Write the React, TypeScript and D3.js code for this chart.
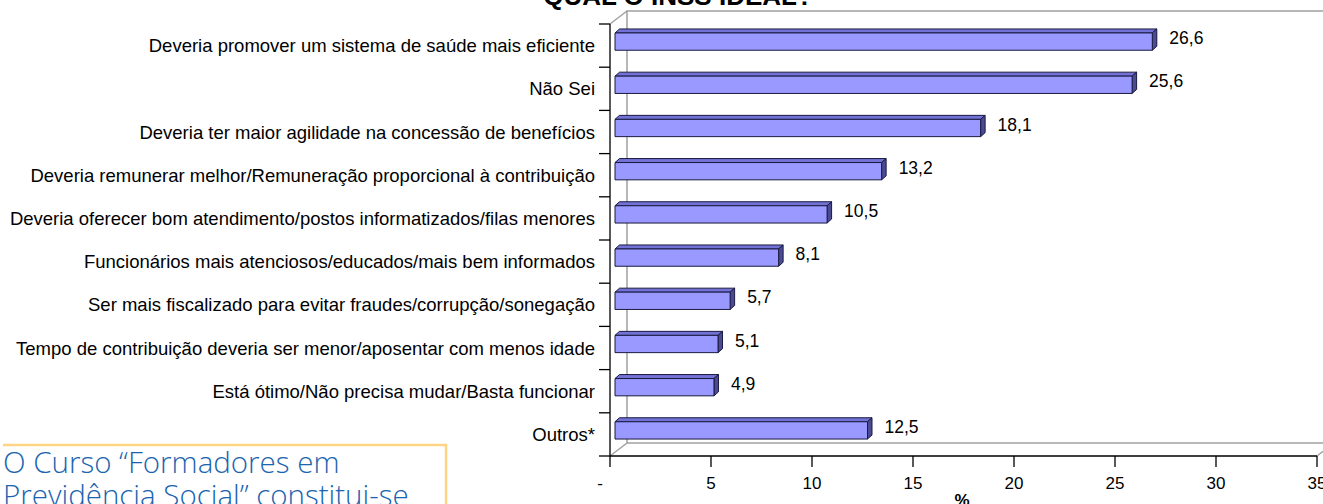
import React, { useEffect, useRef } from 'react';
import * as d3 from 'd3';

const categories = [
  'Deveria promover um sistema de saúde mais eficiente',
  'Não Sei',
  'Deveria ter maior agilidade na concessão de benefícios',
  'Deveria remunerar melhor/Remuneração proporcional à contribuição',
  'Deveria oferecer bom atendimento/postos informatizados/filas menores',
  'Funcionários mais atenciosos/educados/mais bem informados',
  'Ser mais fiscalizado para evitar fraudes/corrupção/sonegação',
  'Tempo de contribuição deveria ser menor/aposentar com menos idade',
  'Está ótimo/Não precisa mudar/Basta funcionar',
  'Outros*',
];
const values = [26.6, 25.6, 18.1, 13.2, 10.5, 8.1, 5.7, 5.1, 4.9, 12.5];
const ticks = [0, 5, 10, 15, 20, 25, 30, 35];

function App() {
  const chart = useRef<SVGSVGElement>(null);

  useEffect(() => {
    const svg = d3.select(chart.current);
    svg.selectAll('*').remove();

    const x = d3.scaleLinear().domain([0, 35]).range([610, 1317]);
    const y = d3.scaleBand().domain(categories).range([24, 456]).padding(0);

    // depth of the 3d wall and of the bars
    const dx = 17, dy = -13;
    const bx = 5, by = -4, bdx = 4.5, bdy = -4;
    const bh = y.bandwidth() * 0.4;

    const font = 'Liberation Sans, Arial, sans-serif';
    const x0 = x(0), x1 = x(35), yT = y.range()[0], yB = y.range()[1];

    // back wall
    const wall = svg.append('g').attr('stroke', '#a0a0a0').attr('stroke-width', 1.5).attr('fill', 'none');
    wall.append('path').attr('d', `M${x0 + dx},${yB + dy}V${yT + dy}H${x1 + dx}`);
    wall.append('path').attr('d', `M${x0 + dx},${yB + dy}H${x1 + dx}`);
    wall.append('path').attr('d', `M${x0},${yT}L${x0 + dx},${yT + dy}`);
    wall.append('path').attr('d', `M${x0},${yB}L${x0 + dx},${yB + dy}`);
    wall.append('path').attr('d', `M${x1},${yB}L${x1 + dx},${yB + dy}`);

    // bars
    const bars = svg.append('g').attr('stroke', '#1a1a40').attr('stroke-width', 1).attr('stroke-linejoin', 'round');
    categories.forEach((c, i) => {
      const cy = (y(c) as number) + y.bandwidth() / 2 + by;
      const l = x0 + bx, r = x(values[i]) + bx;
      const t = cy - bh / 2, b = cy + bh / 2;
      bars.append('path').attr('fill', '#7272d6')
        .attr('d', `M${l},${t}L${l + bdx},${t + bdy}H${r + bdx}L${r},${t}Z`);
      bars.append('path').attr('fill', '#4b4b94')
        .attr('d', `M${r},${t}L${r + bdx},${t + bdy}V${b + bdy}L${r},${b}Z`);
      bars.append('rect').attr('fill', '#9999ff')
        .attr('x', l).attr('y', t).attr('width', r - l).attr('height', bh);
      svg.append('text')
        .attr('x', r + 17).attr('y', cy - 3.5)
        .attr('dominant-baseline', 'central')
        .style('font-family', font).style('font-size', '17.5px')
        .text(d3.format('.1f')(values[i]).replace('.', ','));
    });

    // front axes
    const ax = svg.append('g').attr('stroke', '#000').attr('stroke-width', 1.3).attr('fill', 'none');
    ax.append('path').attr('d', `M${x0},${yT}V${yB}H${x1}`);
    d3.range(categories.length + 1).forEach(i => {
      const yy = yT + i * y.step();
      ax.append('path').attr('d', `M${x0 - 11},${yy}H${x0}`);
    });
    ticks.forEach(t => {
      ax.append('path').attr('d', `M${x(t)},${yB}V${yB + 11}`);
    });

    svg.append('g').selectAll('text').data(ticks).join('text')
      .attr('x', d => d === 0 ? x(d) - 10 : x(d))
      .attr('y', 483)
      .attr('text-anchor', 'middle')
      .attr('dominant-baseline', 'central')
      .style('font-family', font).style('font-size', '17px')
      .text(d => d === 0 ? '-' : String(d));

    svg.append('g').selectAll('text').data(categories).join('text')
      .attr('x', 595)
      .attr('y', d => (y(d) as number) + y.bandwidth() / 2)
      .attr('text-anchor', 'end')
      .attr('dominant-baseline', 'central')
      .style('font-family', font).style('font-size', '18.5px')
      .text(d => d);

    svg.append('text')
      .attr('x', 678).attr('y', 5)
      .attr('text-anchor', 'middle')
      .style('font-family', font).style('font-size', '26px').style('font-weight', 'bold')
      .text('QUAL O INSS IDEAL?');

    svg.append('text')
      .attr('x', 962).attr('y', 506)
      .attr('text-anchor', 'middle')
      .style('font-family', font).style('font-size', '17px').style('font-weight', 'bold')
      .text('%');

    // text box in the corner
    svg.append('path')
      .attr('d', 'M3,445H446V504')
      .attr('fill', 'none').attr('stroke', '#ffd584').attr('stroke-width', 2.5);
    const box = svg.append('g')
      .style('font-family', 'Open Sans, sans-serif').style('font-size', '29.5px')
      .style('font-weight', '300').attr('fill', '#1a64b0');
    box.append('text').attr('x', 3).attr('y', 473).text('O Curso “Formadores em');
    box.append('text').attr('x', 3).attr('y', 506).text('Previdência Social” constitui-se');
  }, []);

  return (
    <div style={{ position: 'absolute', left: 0, top: 0 }}>
      <svg ref={chart} width={1323} height={504} style={{ display: 'block', background: '#fff' }}></svg>
    </div>
  );
}

export default App;
